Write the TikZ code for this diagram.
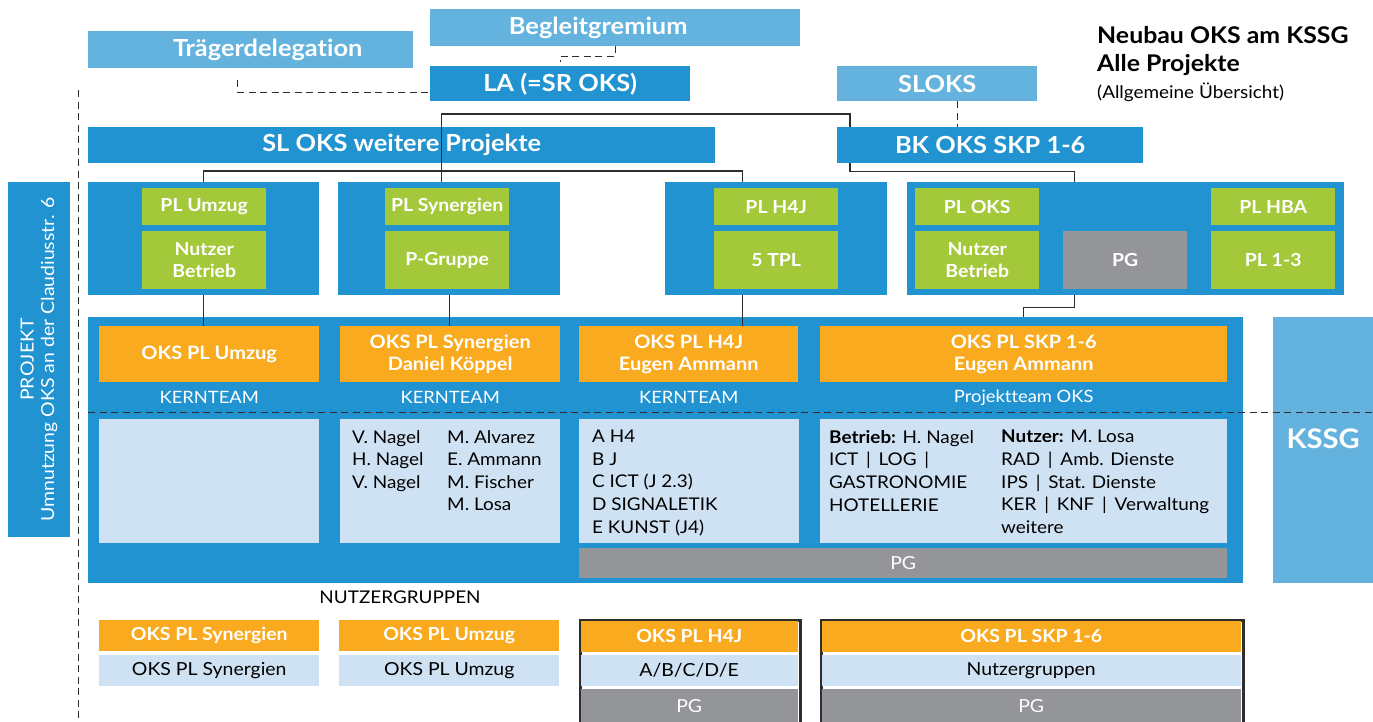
\documentclass[tikz,border=0pt]{standalone}
\usepackage{fontspec}
\setmainfont{Lato}[FakeStretch=1.08, Ligatures=NoCommon]
\usepackage{tikz}
\usetikzlibrary{positioning, calc}
\definecolor{SkyBlue} {HTML}{64B3DE}
\definecolor{OksBlue} {HTML}{2193D0}
\definecolor{LeafGrn} {HTML}{A3C93A}
\definecolor{OksOrng} {HTML}{F9AA1E}
\definecolor{PaleBlue}{HTML}{CFE2F3}
\definecolor{PgGrey}  {HTML}{939598}
\definecolor{InkGrey} {HTML}{2E2E2E}
\newcommand{\setfs}[2]{\fontsize{#1}{#2}\selectfont}

\begin{document}
\begin{tikzpicture}[x=1pt, y=-1pt,
    oksbox/.style={inner sep=0pt, anchor=north west, text=white, align=center},
    headbox/.style={oksbox, font=\bfseries\setfs{23.5}{28}},
    headlbl/.style={inner sep=0pt, text=white, font=\bfseries\setfs{23.5}{28}},
    leafbox/.style={oksbox, fill=LeafGrn, minimum width=124, font=\bfseries\setfs{18}{22}},
    orngbox/.style={oksbox, fill=OksOrng, font=\bfseries\setfs{18.5}{22.3}},
    palebox/.style={oksbox, fill=PaleBlue, text=black, font=\setfs{18}{22}},
    listtxt/.style={inner sep=0pt, anchor=north west, align=left, text=black, font=\setfs{17.5}{22.6}},
    teamlbl/.style={inner sep=0pt, text=white, font=\setfs{17}{22}},
    conn/.style={draw=InkGrey, line width=1.3pt},
    dashline/.style={draw=InkGrey, line width=1.4pt, dash pattern=on 7pt off 4.5pt}]
  \useasboundingbox (0,0) rectangle (1373,721);

  % ── governance (top) ─────────────────────────────────────────────────────
  \node[headbox, fill=SkyBlue, minimum width=325, minimum height=37,
        label={[headlbl, xshift=17pt]center:Trägerdelegation}] (trager) at (88,31) {};
  \node[headbox, fill=SkyBlue, minimum width=370, minimum height=37,
        label={[headlbl, xshift=-17pt]center:Begleitgremium}] (begleit) at (430,9) {};
  \node[headbox, fill=OksBlue, minimum width=260, minimum height=35] (la)      at (430,66) {LA (=SR OKS)};
  \node[headbox, fill=SkyBlue, minimum width=200, minimum height=35] (sloks)   at (837,66) {SLOKS};
  \node[headbox, fill=OksBlue, minimum width=627, minimum height=36] (sl)      at (88,127) {SL OKS weitere Projekte};
  \node[headbox, fill=OksBlue, minimum width=306, minimum height=36] (bk)      at (837,127) {BK OKS SKP 1-6};

  % ── title ────────────────────────────────────────────────────────────────
  \node[anchor=base west, inner sep=0pt, font=\bfseries\setfs{23}{27}] (title1) at (1097,43.3) {Neubau OKS am KSSG};
  \node[anchor=base west, inner sep=0pt, font=\bfseries\setfs{23}{27}] (title2) at (1097,71.5) {Alle Projekte};
  \node[anchor=base west, inner sep=0pt, font=\setfs{17.5}{20}]        (title3) at (1097,98)   {(Allgemeine Übersicht)};

  % ── project blocks ───────────────────────────────────────────────────────
  \node[oksbox, fill=OksBlue, minimum width=231, minimum height=113] (b1) at (88,182)  {};
  \node[oksbox, fill=OksBlue, minimum width=222, minimum height=113] (b2) at (338,182) {};
  \node[oksbox, fill=OksBlue, minimum width=222, minimum height=113] (b3) at (665,182) {};
  \node[oksbox, fill=OksBlue, minimum width=437, minimum height=113] (b4) at (907,182) {};

  \node[leafbox, minimum height=37] (plumzug) at (142,188)  {PL Umzug};
  \node[leafbox, minimum height=58] (nutz1)   at (142,231)  {Nutzer\\Betrieb};
  \node[leafbox, minimum height=37] (plsyn)   at (385,188)  {PL Synergien};
  \node[leafbox, minimum height=58] (pgruppe) at (385,231)  {P-Gruppe};
  \node[leafbox, minimum height=37] (plh4j)   at (714,188)  {PL H4J};
  \node[leafbox, minimum height=58] (tpl)     at (714,231)  {5 TPL};
  \node[leafbox, minimum height=37] (ploks)   at (915,188)  {PL OKS};
  \node[leafbox, minimum height=58] (nutz4)   at (915,231)  {Nutzer\\Betrieb};
  \node[leafbox, minimum height=58, fill=PgGrey] (pgb4) at (1063,231) {PG};
  \node[leafbox, minimum height=37] (plhba)   at (1211,188) {PL HBA};
  \node[leafbox, minimum height=58] (plonetri) at (1211,231) {PL 1-3};

  % ── side labels ──────────────────────────────────────────────────────────
  \node[oksbox, fill=OksBlue, anchor=center, rotate=90, minimum width=355, minimum height=62,
        font=\setfs{18}{20.5}] (proj) at (39,359.5) {PROJEKT\\Umnutzung OKS an der Claudiusstr. 6};
  \node[oksbox, fill=OksBlue, minimum width=1154.5, minimum height=266] (panel) at (88,317) {};
  \node[oksbox, fill=SkyBlue, minimum width=100, minimum height=266] (kssg) at (1273,317) {};
  \node[inner sep=0pt, text=white, font=\bfseries\setfs{27}{30}] (kssglbl) at ([yshift=-122]kssg.north) {KSSG};

  % ── core teams ───────────────────────────────────────────────────────────
  \node[orngbox, minimum width=220, minimum height=56] (o1) at (99,326)  {OKS PL Umzug};
  \node[orngbox, minimum width=220, minimum height=56] (o2) at (340,326) {OKS PL Synergien\\Daniel Köppel};
  \node[orngbox, minimum width=219, minimum height=56] (o3) at (579,326) {OKS PL H4J\\Eugen Ammann};
  \node[orngbox, minimum width=407, minimum height=56] (o4) at (820,326) {OKS PL SKP 1-6\\Eugen Ammann};
  \foreach \o/\t in {o1/KERNTEAM, o2/KERNTEAM, o3/KERNTEAM, o4/Projektteam OKS} {
    \node[teamlbl] (t\o) at ([yshift=-15]\o.south) {\t};
  }

  % ── member lists ─────────────────────────────────────────────────────────
  \foreach \n/\x/\w in {l1/99/220, l2/340/220, l3/579/220, l4/820/407} {
    \node[palebox, minimum width=\w, minimum height=124] (\n) at (\x,419) {};
  }
  \node[oksbox, fill=PgGrey, minimum width=648, minimum height=30, font=\setfs{18}{22}] (pgbar) at (579,548) {PG};

  \node[listtxt] (l2a) at ([xshift=12,yshift=-11]l2.north west)  {V. Nagel\\H. Nagel\\V. Nagel};
  \node[listtxt] (l2b) at ([xshift=107,yshift=-11]l2.north west) {M. Alvarez\\E. Ammann\\M. Fischer\\M. Losa};
  \node[listtxt] (l3a) at ([xshift=13,yshift=-11]l3.north west)  {A H4\\B J\\C ICT (J 2.3)\\D SIGNALETIK\\E KUNST (J4)};
  \node[listtxt] (l4a) at ([xshift=9,yshift=-11]l4.north west)   {\textbf{Betrieb:} H. Nagel\\ICT \,|\, LOG \,|\\GASTRONOMIE\\HOTELLERIE};
  \node[listtxt] (l4b) at ([xshift=181,yshift=-11]l4.north west) {\textbf{Nutzer:} M. Losa\\RAD \,|\, Amb. Dienste\\IPS \,|\, Stat. Dienste\\KER \,|\, KNF \,|\, Verwaltung\\weitere};

  % ── user groups (bottom) ─────────────────────────────────────────────────
  \node[inner sep=0pt, font=\setfs{17.5}{22}] (nutzgr) at (400,597) {NUTZERGRUPPEN};
  \node[orngbox, minimum width=220, minimum height=31, font=\bfseries\setfs{18}{21}] (n1o) at (99,620)  {OKS PL Synergien};
  \node[palebox, minimum width=220, minimum height=31] (n1l) at (99,655)  {OKS PL Synergien};
  \node[orngbox, minimum width=220, minimum height=31, font=\bfseries\setfs{18}{21}] (n2o) at (339,620) {OKS PL Umzug};
  \node[palebox, minimum width=220, minimum height=31] (n2l) at (339,655) {OKS PL Umzug};

  \node[oksbox, draw=InkGrey, line width=2.5pt, fill=white, minimum width=220, minimum height=104] (f3) at (579,619) {};
  \node[orngbox, minimum width=217, minimum height=31, font=\bfseries\setfs{18}{21}] (n3o) at (580.5,620.5) {OKS PL H4J};
  \node[palebox, minimum width=217, minimum height=31] (n3l) at (580.5,655) {A/B/C/D/E};
  \node[oksbox, fill=PgGrey, minimum width=217, minimum height=33, font=\setfs{18}{22}] (n3g) at (580.5,689) {PG};

  \node[oksbox, draw=InkGrey, line width=2.5pt, fill=white, minimum width=422, minimum height=104] (f4) at (820,619) {};
  \node[orngbox, minimum width=419, minimum height=31, font=\bfseries\setfs{18}{21}] (n4o) at (821.5,620.5) {OKS PL SKP 1-6};
  \node[palebox, minimum width=419, minimum height=31] (n4l) at (821.5,655) {Nutzergruppen};
  \node[oksbox, fill=PgGrey, minimum width=419, minimum height=33, font=\setfs{18}{22}] (n4g) at (821.5,689) {PG};

  % ── connectors ───────────────────────────────────────────────────────────
  \draw[dashline] (begleit.south) -- ++(0,10) -| ([yshift=4]la.north);
  \draw[dashline] ([xshift=-13,yshift=-12]trager.south) |- ([yshift=-8.5]la.west);
  \draw[dashline] ([xshift=20]sloks.south) -- ([xshift=20]sloks.south |- bk.north);
  \draw[dashline] (78.5,90) -- (78.5,721);
  \draw[dashline] (88,412.5) -- (1373,412.5);

  \draw[conn] ([xshift=-8]b2.north) -- ++(0,-68) -| ([xshift=13]bk.north west);
  \draw[conn] (b1.north) -- ++(0,-11) -| ([xshift=-34]b3.north);
  \draw[conn] ([xshift=13]bk.south west) -- ++(0,8) -| ([xshift=-51.5]b4.north);

  \draw[conn] (b1.south) -- (b1.south |- o1.north);
  \draw[conn] (b2.south) -- (b2.south |- o2.north);
  \draw[conn] ([xshift=-34]b3.south) -- ([xshift=-34]b3.south |- o3.north);
  \draw[conn] ([xshift=-51.5]b4.south) -- ++(0,12) -| (o4.north |- panel.north);
\end{tikzpicture}
\end{document}
